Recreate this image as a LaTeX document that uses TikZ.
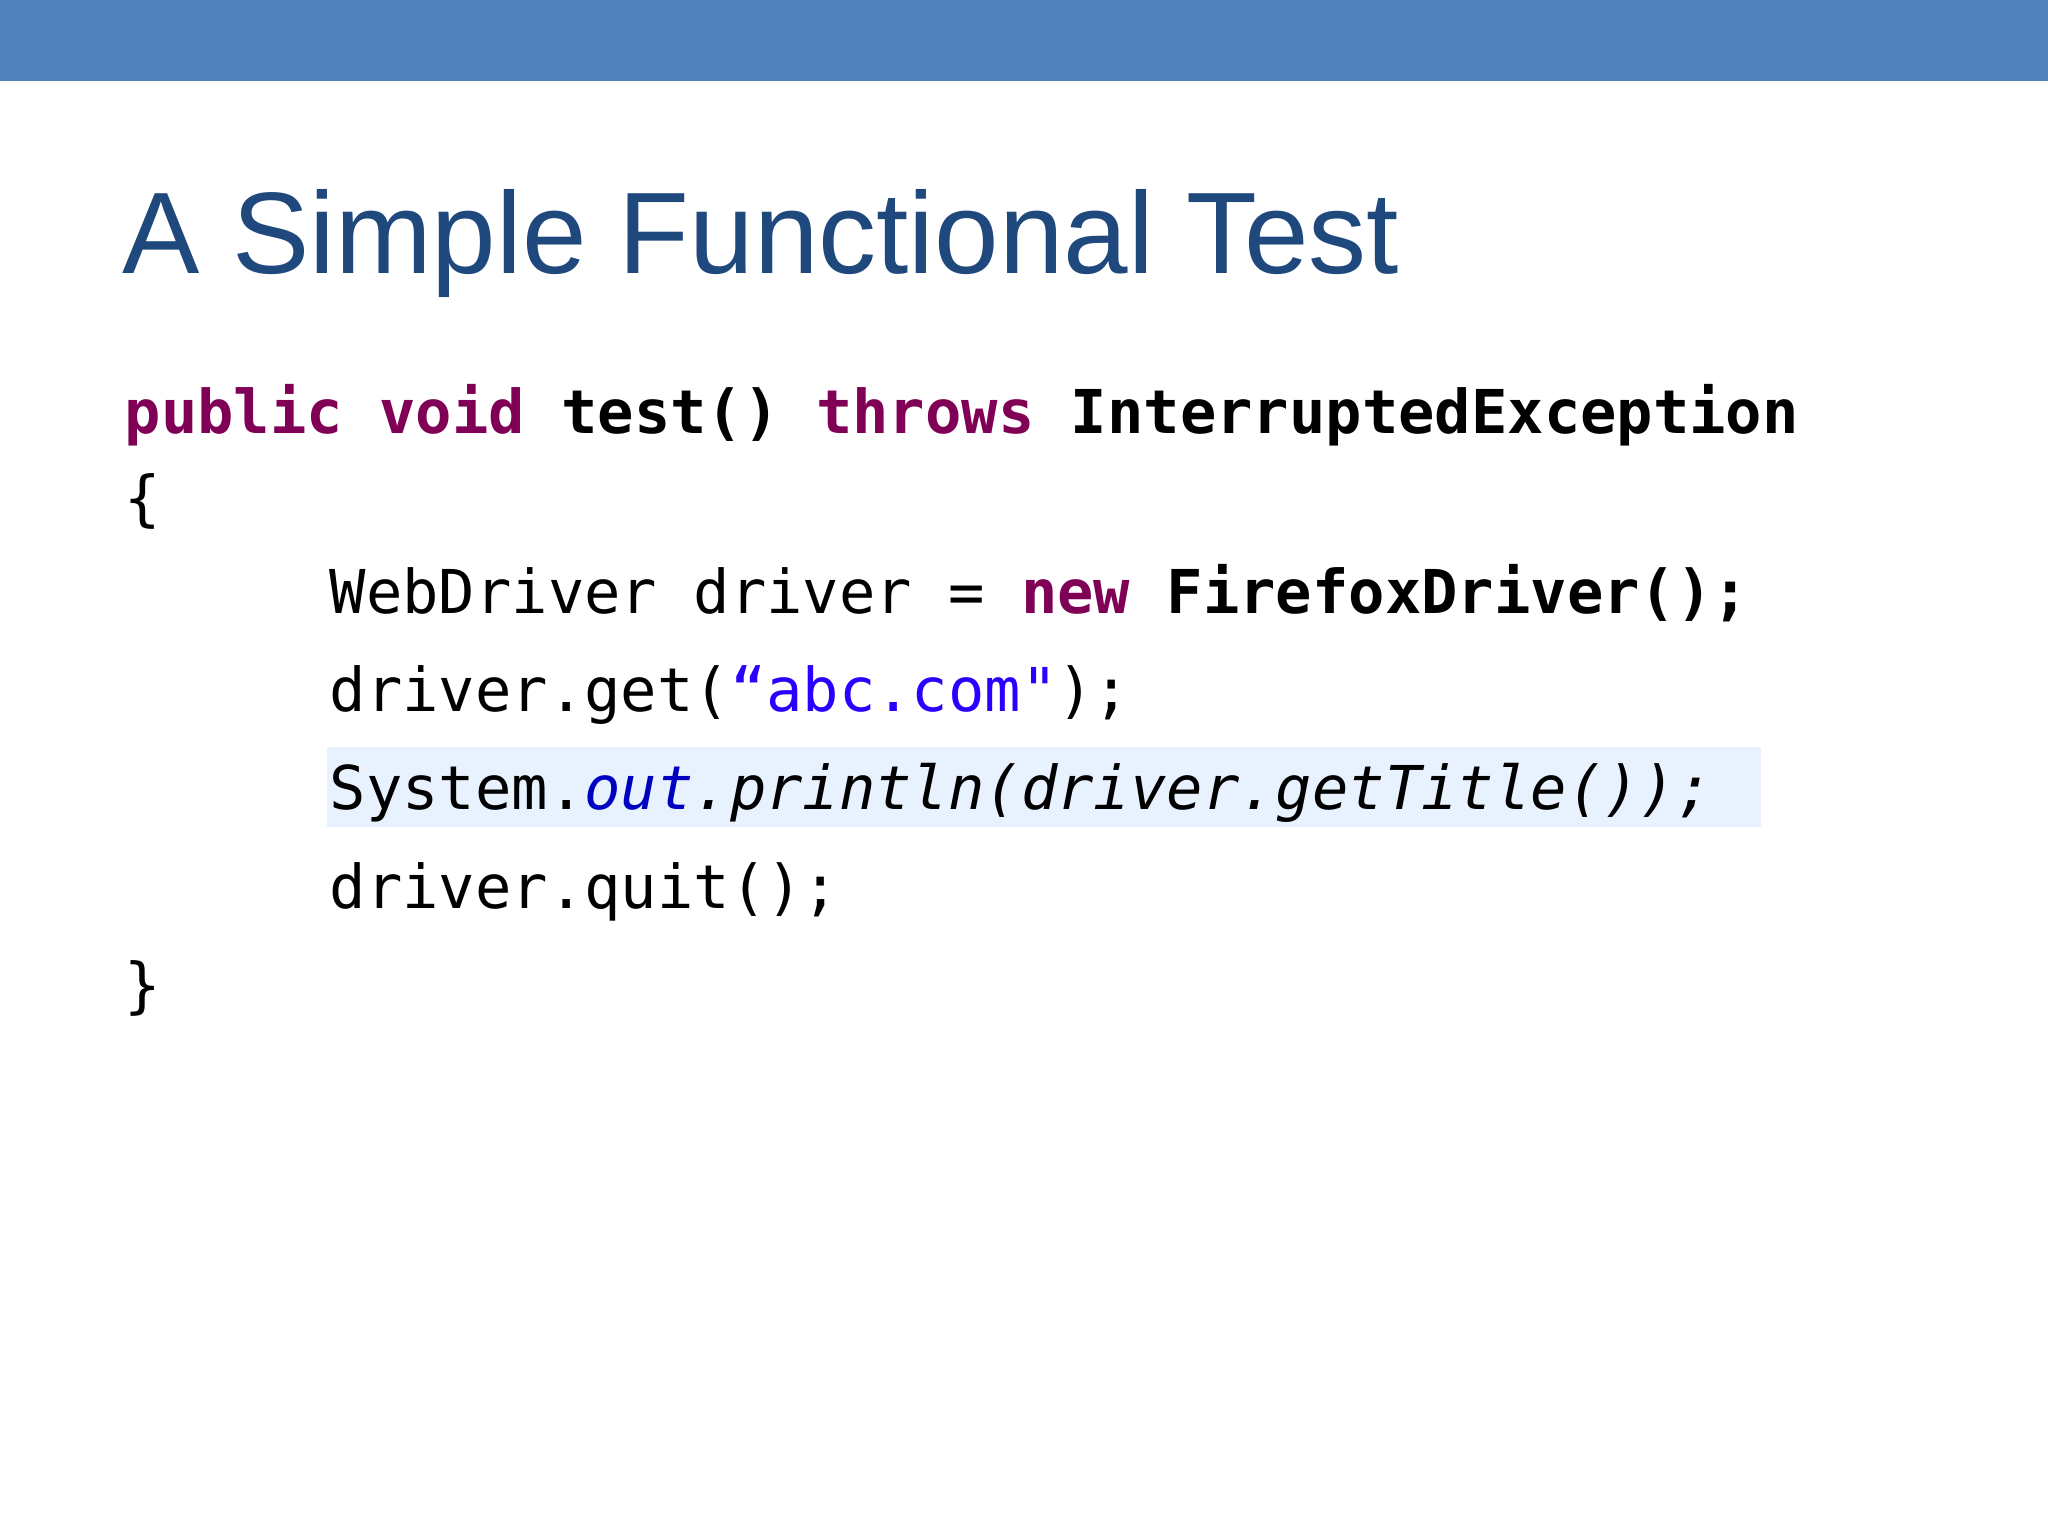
\documentclass[tikz,border=0pt]{standalone}
\usepackage{fontspec}
\setmainfont{Liberation Sans}
\newfontfamily\codefont{DejaVu Sans Mono}
\definecolor{barblue}{HTML}{5082BE}
\definecolor{titleblue}{HTML}{1F497D}
\definecolor{kw}{HTML}{7F0055}
\definecolor{str}{HTML}{2A00FF}
\definecolor{fld}{HTML}{0000C0}
\definecolor{hl}{HTML}{E8F2FE}
\tikzset{code/.style={anchor=base west,inner sep=0pt,font=\codefont\fontsize{17.2pt}{20pt}\selectfont}}
\begin{document}
\begin{tikzpicture}[x=1cm,y=1cm]
\useasboundingbox (0,0) rectangle (20.48,-15.36);
\fill[barblue] (0,0) rectangle (20.48,-0.81);
\node[anchor=base west,inner sep=0pt,text=titleblue,font=\fontsize{33pt}{36pt}\selectfont] (title) at (1.22,-2.74) {A Simple Functional Test};
\fill[hl] (3.27,-7.47) rectangle (17.61,-8.27);
\node[code] (l1) at (1.24,-4.34) {\textcolor{kw}{\bfseries public void} \textbf{test()} \textcolor{kw}{\bfseries throws} \textbf{InterruptedException}};
\node[code] (l2) at (1.24,-5.20) {\{};
\node[code] (l3) at (3.29,-6.14) {WebDriver driver = \textcolor{kw}{\bfseries new} \textbf{FirefoxDriver();}};
\node[code] (l4) at (3.29,-7.12) {driver.get(\textcolor{str}{“abc.com"});};
\node[code] (l5) at (3.29,-8.10) {System.\textcolor{fld}{\itshape out}\itshape .println(driver.getTitle());};
\node[code] (l6) at (3.29,-9.08) {driver.quit();};
\node[code] (l7) at (1.24,-10.06) {\}};
\end{tikzpicture}
\end{document}
